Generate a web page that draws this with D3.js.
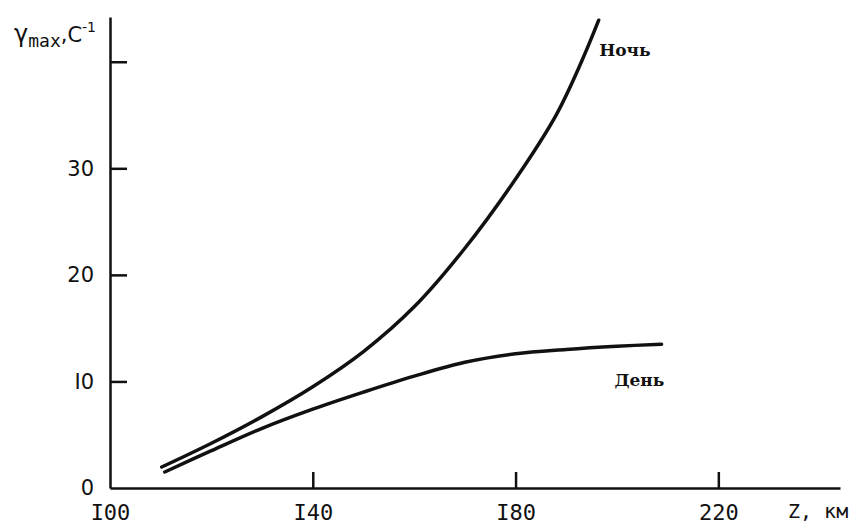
<!DOCTYPE html>
<html lang="ru">
<head>
<meta charset="UTF-8">
<title>γmax vs Z</title>
<script src="https://d3js.org/d3.v7.min.js"></script>
<style>
  body { margin: 0; background: #fff; }
  svg { display: block; }
  .axis path, .axis line { stroke: #111; stroke-width: 2.5px; fill: none; }
  .axis text { fill: #111; }
  .xax text { font-family: "DejaVu Sans Mono", monospace; font-size: 22px; }
  .yax text { font-family: "DejaVu Sans", sans-serif; font-size: 21px; }
  .curve { fill: none; stroke: #111; stroke-width: 3.5px; stroke-linecap: round; }
  .lbl { font-family: "DejaVu Serif", serif; font-weight: bold; font-size: 17px; fill: #111; }
</style>
</head>
<body>
<div id="chart"></div>
<script>
// height Z, km  and  gamma max, s^-1
const nightZ = [110.2, 120, 130, 140, 150, 160, 170, 180, 188, 193, 196.4];
const nightG = [1.97, 4.2, 6.7, 9.5, 12.8, 17.0, 22.5, 29.0, 35.0, 40.0, 43.9];
const dayZ = [110.8, 120, 130, 140, 150, 160, 170, 180, 190, 200, 208.8];
const dayG = [1.5, 3.5, 5.6, 7.4, 9.0, 10.5, 11.8, 12.6, 13.0, 13.3, 13.5];

const xTicks = [100, 140, 180, 220];
const xTickLabels = ["I00", "I40", "I80", "220"];
const yTicks = [0, 10, 20, 30, 40];
const yTickLabels = ["0", "I0", "20", "30", ""];

const W = 857, H = 525;

const svg = d3.select("#chart").append("svg")
    .attr("width", W)
    .attr("height", H);

const x = d3.scaleLinear().domain([100, 244]).range([110, 840]);
const y = d3.scaleLinear().domain([0, 44.2]).range([488, 17]);

// axes, ticks point inward like the original drawing
const xAxis = svg.append("g")
    .attr("class", "axis xax")
    .attr("transform", `translate(0,${y(0)})`)
    .call(d3.axisBottom(x)
        .tickValues(xTicks)
        .tickSize(-16)
        .tickSizeOuter(0)
        .tickPadding(16)
        .tickFormat((d, i) => xTickLabels[i]));
xAxis.selectAll(".tick").filter(d => d === 100).select("line").remove();

const yAxis = svg.append("g")
    .attr("class", "axis yax")
    .attr("transform", `translate(${x(100)},0)`)
    .call(d3.axisLeft(y)
        .tickValues(yTicks)
        .tickSize(-17)
        .tickSizeOuter(0)
        .tickPadding(16)
        .tickFormat((d, i) => yTickLabels[i]));
yAxis.selectAll(".tick").filter(d => d === 0).select("line").remove();

// curves
const line = d3.line()
    .x(d => x(d[0]))
    .y(d => y(d[1]))
    .curve(d3.curveCatmullRom.alpha(0.5));

svg.append("path")
    .attr("class", "curve")
    .attr("d", line(d3.zip(nightZ, nightG)));

svg.append("path")
    .attr("class", "curve")
    .attr("d", line(d3.zip(dayZ, dayG)));

// curve labels
svg.append("text").attr("class", "lbl")
    .attr("x", x(196.5)).attr("y", y(40.5))
    .text("Ночь");

svg.append("text").attr("class", "lbl")
    .attr("x", x(199.5)).attr("y", y(9.6))
    .text("День");

// y axis title
const title = svg.append("text")
    .attr("x", 14).attr("y", 42)
    .style("font-family", "DejaVu Sans, sans-serif")
    .style("font-size", "24px")
    .attr("fill", "#111");
title.append("tspan").text("γ");
title.append("tspan").attr("dy", 5)
    .style("font-family", "DejaVu Sans Mono, monospace")
    .style("font-size", "18px").text("max");
title.append("tspan").attr("dy", -5).style("font-size", "21px").text(",C");
title.append("tspan").attr("dy", -10).style("font-size", "14px").text("-1");

// x axis title
svg.append("text")
    .attr("x", 788).attr("y", 518)
    .style("font-family", "DejaVu Sans Mono, monospace")
    .style("font-size", "20px")
    .attr("fill", "#111")
    .text("Z, км");
</script>
</body>
</html>
